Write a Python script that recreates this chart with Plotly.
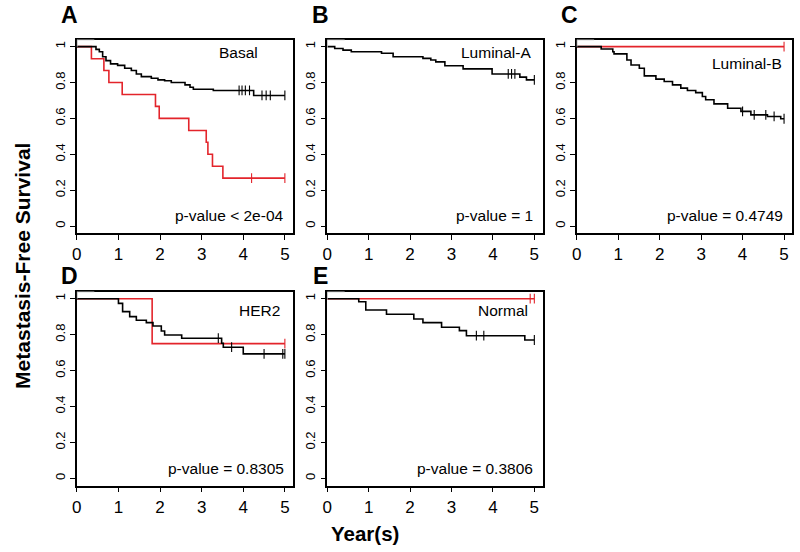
import bisect
import plotly.graph_objects as go

FONT = "Liberation Sans, Arial, sans-serif"
BLACK = "#000000"
RED = "#e3242b"

# ---------------- data (years, survival) ----------------
# Panel A  Basal
a_black_t = [0, 0.46, 0.54, 0.62, 0.70, 0.81, 0.98, 1.15, 1.31, 1.43, 1.55, 1.79, 1.95, 2.11, 2.27, 2.6, 2.72, 2.8, 3.28, 4.25]
a_black_s = [1, 0.985, 0.972, 0.944, 0.922, 0.904, 0.896, 0.88, 0.867, 0.848, 0.833, 0.824, 0.815, 0.81, 0.8, 0.787, 0.774, 0.763, 0.756, 0.728]
a_black_cens = [3.9, 3.97, 4.05, 4.15, 4.45, 4.55, 4.65, 5.0]
a_red_t = [0, 0.35, 0.65, 0.77, 1.09, 1.89, 1.98, 2.69, 3.11, 3.15, 3.26, 3.51]
a_red_s = [1, 0.933, 0.867, 0.8, 0.733, 0.667, 0.6, 0.533, 0.467, 0.4, 0.333, 0.267]
a_red_cens = [4.2, 5.0]

# Panel B  Luminal-A
b_black_t = [0, 0.18, 0.38, 0.58, 1.31, 1.59, 2.31, 2.5, 2.62, 2.84, 3.28, 3.98, 4.65, 4.81]
b_black_s = [1, 0.99, 0.981, 0.972, 0.963, 0.944, 0.935, 0.926, 0.915, 0.894, 0.876, 0.848, 0.83, 0.815]
b_black_cens = [4.37, 4.45, 4.53, 5.0]

# Panel C  Luminal-B
c_black_t = [0, 0.59, 0.87, 0.9, 1.21, 1.31, 1.51, 1.63, 1.91, 2.11, 2.31, 2.51, 2.67, 2.87, 3.03, 3.11, 3.31, 3.64, 3.96, 4.2, 4.6, 4.92]
c_black_s = [1, 0.987, 0.972, 0.96, 0.926, 0.898, 0.88, 0.837, 0.819, 0.806, 0.787, 0.769, 0.756, 0.744, 0.722, 0.704, 0.681, 0.657, 0.639, 0.62, 0.611, 0.598]
c_black_cens = [4.0, 4.28, 4.56, 4.76, 5.0]
c_red_t = [0]
c_red_s = [1]
c_red_cens = [5.0]

# Panel D  HER2
d_black_t = [0, 1.0, 1.1, 1.27, 1.43, 1.67, 1.83, 2.03, 2.11, 2.52, 3.48, 3.52, 4.0]
d_black_s = [1, 0.974, 0.928, 0.9, 0.88, 0.867, 0.848, 0.82, 0.798, 0.78, 0.752, 0.73, 0.693]
d_black_cens = [3.4, 3.72, 4.5, 4.95, 5.0]
d_red_t = [0, 1.81]
d_red_s = [1, 0.75]
d_red_cens = [5.0]

# Panel E  Normal
e_black_t = [0, 0.76, 0.93, 1.43, 2.09, 2.31, 2.76, 3.19, 3.36, 4.77]
e_black_s = [1, 0.983, 0.937, 0.913, 0.887, 0.867, 0.841, 0.822, 0.794, 0.77]
e_black_cens = [3.6, 3.78, 5.0]
e_red_t = [0]
e_red_s = [1]
e_red_cens = [4.9, 5.0]

panel_letters = ["A", "B", "C", "D", "E"]
subtype_labels = ["Basal", "Luminal-A", "Luminal-B", "HER2", "Normal"]
p_values = ["p-value < 2e-04", "p-value = 1", "p-value = 0.4749", "p-value = 0.8305", "p-value = 0.3806"]
x_ticks = [0, 1, 2, 3, 4, 5]
y_ticks = [0, 0.2, 0.4, 0.6, 0.8, 1]
y_ticktext = ["0", "0.2", "0.4", "0.6", "0.8", "1"]
END_T = 5.0

panels = [
    dict(black=(a_black_t, a_black_s, a_black_cens), red=(a_red_t, a_red_s, a_red_cens)),
    dict(black=(b_black_t, b_black_s, b_black_cens), red=None),
    dict(black=(c_black_t, c_black_s, c_black_cens), red=(c_red_t, c_red_s, c_red_cens)),
    dict(black=(d_black_t, d_black_s, d_black_cens), red=(d_red_t, d_red_s, d_red_cens)),
    dict(black=(e_black_t, e_black_s, e_black_cens), red=(e_red_t, e_red_s, e_red_cens)),
]

# ---------------- layout geometry (pixels) ----------------
W, H = 800, 552
cols = [(72.3, 290.0), (324.3, 541.0), (575.3, 792.3)]
rows = [(39.5, 233.2), (291.5, 485.5)]
positions = [(0, 0), (0, 1), (0, 2), (1, 0), (1, 1)]

# annotation placement (data coords) per panel: (x, y, xanchor)
label_pos = [(3.89, 0.965, "center"), (4.96, 0.965, "right"), (5.0, 0.905, "right"),
             (4.38, 0.937, "center"), (4.25, 0.932, "center")]
letter_px = [(65, 15), (317, 15), (568, 15), (65, 276), (317, 276)]


def surv_at(ts, ss, t):
    i = bisect.bisect_right(ts, t) - 1
    return ss[max(i, 0)]


fig = go.Figure()
layout = dict(width=W, height=H, margin=dict(l=0, r=0, t=0, b=0),
              paper_bgcolor="white", plot_bgcolor="white", showlegend=False,
              font=dict(family=FONT, color="black"))
annotations = []
shapes = []

for k, (r, c) in enumerate(positions):
    n = k + 1
    xa = "x" if n == 1 else f"x{n}"
    ya = "y" if n == 1 else f"y{n}"
    xl = "xaxis" if n == 1 else f"xaxis{n}"
    yl = "yaxis" if n == 1 else f"yaxis{n}"
    x0p, x1p = cols[c]
    y0p, y1p = rows[r]
    layout[xl] = dict(domain=[x0p / W, x1p / W], range=[0, 5.2], anchor=ya,
                      tickvals=x_ticks, ticks="outside", ticklen=5, tickwidth=1,
                      tickcolor="black", showline=True, mirror=True, linecolor="black",
                      linewidth=1.5, showgrid=False, zeroline=False,
                      tickfont=dict(size=17, family=FONT, color="black"))
    layout[yl] = dict(domain=[1 - y1p / H, 1 - y0p / H], range=[-0.04, 1.04], anchor=xa,
                      tickvals=y_ticks, ticktext=y_ticktext, tickangle=-90,
                      ticks="outside", ticklen=5, tickwidth=1, tickcolor="black",
                      showline=True, mirror=True, linecolor="black", linewidth=1.5,
                      showgrid=False, zeroline=False,
                      tickfont=dict(size=13, family=FONT, color="black"))

    p = panels[k]
    order = []
    if p["red"] is not None:
        order.append((p["red"], RED))
    order.append((p["black"], BLACK))
    for (ts, ss, cens), col in order:
        fig.add_trace(go.Scatter(x=list(ts) + [END_T], y=list(ss) + [ss[-1]],
                                 mode="lines", line=dict(shape="hv", color=col, width=1.6),
                                 xaxis=xa, yaxis=ya, hoverinfo="skip"))
        fig.add_trace(go.Scatter(x=cens, y=[surv_at(ts, ss, t) for t in cens], mode="markers",
                                 marker=dict(symbol="line-ns", size=7,
                                             line=dict(width=1.1, color=col)),
                                 xaxis=xa, yaxis=ya, hoverinfo="skip"))

    # grey top-left part of the frame
    shapes.append(dict(type="line", xref=xa, yref=ya, x0=0, x1=0.42, y0=1.04, y1=1.04,
                       line=dict(color="#b8b8b8", width=1.5), layer="above"))
    shapes.append(dict(type="line", xref=xa, yref=ya, x0=0, x1=0, y0=1.0, y1=1.04,
                       line=dict(color="#b8b8b8", width=1.5), layer="above"))

    lx, ly, anc = label_pos[k]
    annotations.append(dict(x=lx, y=ly, xref=xa, yref=ya, text=subtype_labels[k],
                            showarrow=False, xanchor=anc, yanchor="middle",
                            font=dict(size=15.5, family=FONT, color="black")))
    annotations.append(dict(x=5.02, y=0.056, xref=xa, yref=ya, text=p_values[k],
                            showarrow=False, xanchor="right", yanchor="middle",
                            font=dict(size=15.5, family=FONT, color="black")))
    px, py = letter_px[k]
    annotations.append(dict(x=px / W, y=1 - py / H, xref="paper", yref="paper",
                            text=f"<b>{panel_letters[k]}</b>", showarrow=False,
                            xanchor="center", yanchor="middle",
                            font=dict(size=23, family=FONT, color="black")))

annotations.append(dict(x=18 / W, y=1 - 266 / H, xref="paper", yref="paper",
                        text="<b>Metastasis-Free Survival</b>", textangle=-90,
                        showarrow=False, xanchor="center", yanchor="middle",
                        font=dict(size=21, family=FONT, color="black")))
annotations.append(dict(x=362.5 / W, y=1 - 533 / H, xref="paper", yref="paper",
                        text="<b>Year(s)</b>", showarrow=False,
                        xanchor="center", yanchor="middle",
                        font=dict(size=20.5, family=FONT, color="black")))

layout["annotations"] = annotations
layout["shapes"] = shapes
fig.update_layout(**layout)
fig.write_html("out.html", config={"displayModeBar": False},
               post_script="document.body.style.margin='0';document.body.style.padding='0';")
